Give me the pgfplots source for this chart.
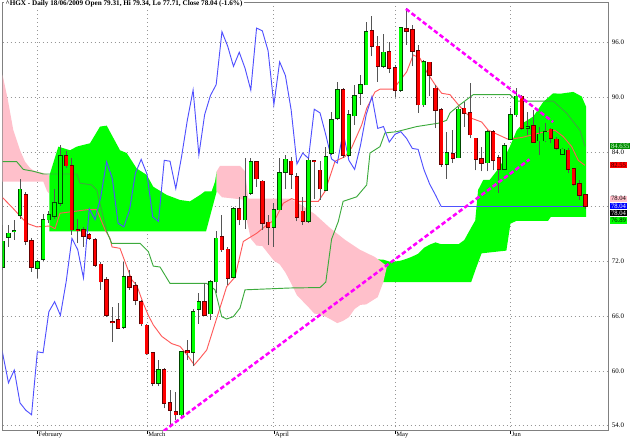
\documentclass[border=0pt]{standalone}
\usepackage{fontspec}
\setmainfont{Liberation Serif}
\usepackage{pgfplots}
\usepackage{pgfplotstable}
\pgfplotsset{compat=1.18}

\definecolor{upfill}{RGB}{0,255,0}
\definecolor{upedge}{RGB}{0,70,0}
\definecolor{dnfill}{RGB}{255,0,0}
\definecolor{dnedge}{RGB}{100,0,0}
\definecolor{wick}{RGB}{85,85,85}
\definecolor{cloudup}{RGB}{0,255,0}
\definecolor{clouddn}{RGB}{255,192,203}
\definecolor{tenkan}{RGB}{255,90,90}
\definecolor{kijun}{RGB}{60,170,60}
\definecolor{chikou}{RGB}{80,80,255}
\definecolor{trend}{RGB}{255,0,255}
\definecolor{gridc}{RGB}{150,150,150}
\definecolor{framec}{RGB}{128,128,128}
\definecolor{lblgreen}{RGB}{0,140,0}

% daily bars: index 0 = 2 Feb 2009
\pgfplotstableread{
i o h l c
-6 71.4 76.0 71.1 74.2
-5 74.7 76.0 73.6 75.1
-4 75.3 76.6 74.4 75.4
-3 77.1 81.0 76.7 79.9
-2 79.3 79.6 73.8 74.2
-1 74.3 74.6 70.9 71.4
0 71.3 72.2 70.2 72.0
1 72.3 77.2 72.1 76.6
2 76.6 77.5 76.2 77.1
3 77.0 80.0 76.7 78.4
4 78.4 84.8 78.1 83.6
5 83.6 84.1 82.3 82.5
6 82.5 83.3 74.9 75.5
7 75.5 76.7 74.0 75.4
8 75.5 75.8 73.6 74.8
9 74.9 75.1 74.4 74.6
10 74.4 74.6 71.4 71.6
11 71.7 72.0 68.9 69.8
12 70.0 70.3 65.9 66.1
13 65.4 67.0 63.2 65.3
14 65.6 67.5 64.6 64.7
15 64.8 72.0 64.6 70.3
16 70.3 71.1 68.9 69.2
17 69.3 69.8 67.2 67.8
18 67.6 67.8 64.9 65.2
19 65.0 65.2 61.8 61.9
20 62.0 62.1 58.3 58.7
21 58.7 61.2 58.3 60.1
22 60.1 60.3 55.9 56.5
23 56.5 57.9 54.0 55.7
24 55.5 57.7 54.6 55.2
25 55.2 62.2 54.9 62.1
26 62.2 63.4 61.2 62.0
27 62.1 66.8 60.5 66.5
28 66.8 68.5 65.2 67.6
29 67.6 69.6 66.0 66.1
30 66.3 70.0 65.6 69.8
31 69.8 75.3 68.5 74.55
32 74.7 77.1 73.1 73.3
33 73.35 73.6 69.4 70.2
34 70.3 78.0 70.2 77.8
35 77.8 79.1 76.0 76.6
36 76.6 83.3 75.6 79.1
37 79.5 83.3 79.3 82.95
38 82.9 83.0 80.2 81.1
39 80.8 80.9 75.5 76.2
40 76.3 77.1 73.8 75.8
41 75.8 78.4 73.6 77.7
42 77.7 83.3 77.6 81.7
43 81.8 83.7 80.0 83.2
44 83.0 83.5 80.0 81.6
45 81.3 81.7 76.4 76.9
46 77.5 79.1 76.0 76.4
47 76.4 83.3 76.2 83.1
48 83.05 83.15 78.9 83.0
49 82.0 83.0 78.75 80.0
50 79.85 84.6 79.7 83.5
51 83.9 88.4 83.7 87.5
52 87.7 91.7 87.5 90.8
53 90.8 91.0 83.3 83.7
54 83.7 88.6 83.5 88.1
55 88.0 91.4 87.0 90.2
56 90.45 92.5 89.2 91.4
57 91.4 98.3 91.35 97.2
58 97.3 98.9 94.5 95.6
59 95.6 96.7 91.7 93.4
60 93.4 96.9 93.2 94.95
61 95.0 96.1 92.65 93.2
62 93.2 93.6 90.0 90.8
63 90.8 97.75 90.6 97.6
64 97.5 99.78 95.75 97.3
65 97.4 97.9 93.4 95.1
66 95.1 95.75 88.3 89.2
67 89.2 94.1 89.0 93.9
68 93.85 93.9 90.1 92.4
69 91.0 91.4 86.6 88.6
70 88.6 88.8 82.4 82.7
71 82.7 86.2 81.1 83.9
72 83.8 86.4 82.8 83.3
73 83.4 88.9 83.3 88.7
74 88.8 89.5 86.8 88.3
75 88.3 91.55 85.5 85.9
76 85.5 85.6 82.0 83.25
77 83.25 84.6 81.9 82.8
78 82.85 86.4 81.9 86.2
79 86.2 86.4 82.0 83.1
80 83.4 83.7 79.5 82.1
81 82.1 85.0 82.0 84.7
82 85.4 88.8 85.3 88.1
83 88.1 91.0 87.9 90.1
84 90.1 90.3 86.4 86.6
85 86.6 88.4 85.9 86.8
86 86.9 88.6 85.0 85.1
87 85.25 86.8 83.7 85.96
88 85.25 87.2 85.1 86.24
89 86.5 86.6 85.0 85.5
90 85.4 85.7 84.2 84.4
91 83.8 84.4 83.7 84.3
92 84.2 84.4 81.7 82.1
93 82.2 82.3 80.3 80.5
94 80.5 80.95 78.75 79.31
95 79.31 79.34 77.71 78.04
}\ohlc

\pgfplotsset{
  candle/.style n args={2}{draw=none, mark=none, forget plot,
    restrict y to domain=0:200,
    error bars/.cd, y dir=plus, y explicit, error mark=none,
    error bar style={line width=#1, draw=#2, solid}},
}

\begin{document}
\begin{tikzpicture}
\begin{axis}[
  at={(2.03pt,5.25pt)}, anchor=south west,
  width=454.7pt, height=321pt, scale only axis,
  xmin=-6.0, xmax=99.08, ymin=53.42, ymax=100.35,
  axis line style={draw=framec, line width=0.75pt},
  xtick={0,19,41,62,82},
  xticklabels={February,March,April,May,Jun},
  xtick pos=bottom, xtick align=outside,
  major tick length=2pt,
  xtick style={draw=black, line width=0.5pt},
  xticklabel style={anchor=north west, inner sep=0pt, xshift=0.8pt, yshift=1.6pt,
    font=\fontsize{4.9pt}{5.5pt}\selectfont},
  ytick={54,60,66,72,78,84,90,96},
  yticklabels={54.0,60.0,66.0,72.0,78.0,84.0,90.0,96.0},
  yticklabel pos=right, ytick style={draw=none},
  yticklabel style={anchor=west, inner sep=0pt, xshift=2pt,
    font=\fontsize{5.2pt}{6pt}\selectfont},
  grid=major,
  major grid style={draw=gridc, line width=0.6pt, dash pattern=on 0.7pt off 2.3pt},
]

% Ichimoku cloud
\addplot[fill=clouddn, draw=none, forget plot] coordinates {
  (-6.2,93.0) (-5.1,89.7) (-4.16,86.4) (-3.0,84.2) (-2.13,82.95) (-1.27,82.25)
  (-0.69,82.0) (1.04,81.7) (2.0,81.5) (2.0,79.5) (1.7,79.7) (1.04,80.76) (-6.2,80.76)
} -- cycle;
\addplot[fill=cloudup, draw=none, forget plot] coordinates {
  (2.08,81.4) (3.64,84.6) (5.67,84.2) (6.83,84.6) (9.13,84.97) (10.87,86.8)
  (12.03,86.9) (14.33,84.2) (15.49,83.9) (17.23,82.2) (18.96,81.5) (20.1,80.2)
  (22.43,79.3) (24.73,78.75) (26.46,78.6) (28.2,79.3) (29.06,79.7) (30.22,79.7)
  (30.8,80.76) (31.09,81.9) (31.09,79.7) (29.24,75.3) (2.08,75.3)
} -- cycle;
\addplot[fill=cloudup, draw=none, forget plot] coordinates {
  (57.5,72.3) (60,72.2) (61,72.0) (62,72.0) (63,72.1) (64,72.3) (65,72.55) (66,72.85)
  (67,73.5) (68,73.85) (69,74.1) (70,73.9) (73,73.9) (74,74.35) (75,75.5)
  (75.9,76.5) (76.4,79.85) (77.3,80.95) (78.4,80.95) (80.2,82.4) (81.9,84.6)
  (83.1,86.4) (84.2,87.2) (85.96,87.9) (87.7,89.5) (89.4,90.45) (90.6,90.4)
  (92.9,90.6) (94.35,90.1) (95.1,89.0) (95.1,76.89) (89,76.89) (88.5,76.45)
  (83,76.45) (82,76.15) (81.3,73.2) (77,72.9) (76,71.2) (75.2,69.75) (57.5,69.75)
} -- cycle;
\addplot[fill=clouddn, draw=none, forget plot] coordinates {
  (31.09,81.9) (31.67,82.5) (35.13,82.5) (36.0,81.9) (36.57,78.9) (43.8,78.9)
  (45.5,78.3) (48.1,77.2) (50.7,75.7) (53.3,74.4) (55.9,73.3) (58.5,72.5) (60.6,71.5)
  (60,69.8) (59,68.1) (58,67.7) (57,67.3) (56,67.25) (55,66.8) (54,65.9) (53,65.5)
  (52,65.25) (51,65.6) (50,65.95) (49,66.2) (48,66.3) (47,67.0) (46,67.65) (45,68.3)
  (44,69.6) (43,70.8) (42,71.7) (41,72.1) (40,72.9) (39,73.7) (38,73.75) (37,74.5)
  (36.3,76.5) (35.6,78.8) (32,79.05) (31.09,79.7)
} -- cycle;

% conversion and base lines
\addplot[tenkan, line width=0.7pt, mark=none, forget plot] coordinates {
  (-6.0,79.0) (-4.16,77.8) (-1.84,76.2) (-0.1,75.8) (2.2,75.9) (3.07,75.6)
  (3.93,77.3) (8.84,77.7) (10.3,77.7) (11.73,75.5) (12.6,74.55) (12.95,73.6)
  (14.33,73.45) (16.36,70.0) (17.23,69.4) (18.37,67.4) (19.24,66.1) (20.1,65.05)
  (21.56,63.8) (23.29,63.0) (24.73,62.7) (26.17,61.6) (27.2,60.66) (28.2,61.4)
  (29.36,62.3) (30.8,65.2) (32.82,69.25) (34.26,70.3) (35.7,74.2) (38.02,75.1)
  (39.76,76.0) (41.2,76.6) (42.63,78.4) (44.09,78.9) (45.23,78.6) (48.7,78.6)
  (49.86,79.7) (51.6,83.0) (53.33,83.5) (54.49,84.5) (56.22,86.98) (57.09,88.8)
  (58.53,90.6) (59.39,90.9) (61.7,90.9) (64.02,92.8) (65.16,94.65) (66.32,94.3)
  (67.49,92.8) (68.93,91.4) (70.09,90.45) (71.53,90.3) (72.96,89.2) (74.12,88.4)
  (75.29,87.7) (77.02,87.3) (78.16,86.4) (79.9,85.9) (81.63,85.4) (83.95,85.6)
  (86.26,85.96) (87.99,86.24) (89.72,86.4) (91.16,85.7) (92.62,84.6) (93.76,83.1)
  (94.92,82.55)
};
\addplot[kijun, line width=0.7pt, mark=none, forget plot] coordinates {
  (-6.0,82.95) (-3.57,82.95) (-2.43,82.1) (-0.69,81.9) (1.04,81.6) (6.83,81.6)
  (7.4,80.6) (9.43,80.4) (10.3,79.85) (12.03,75.3) (12.89,74.0) (17.8,74.0)
  (19.24,73.1) (20.1,71.5) (21.27,71.4) (23.0,69.6) (29.36,69.6) (30.8,68.9)
  (31.96,65.96) (32.82,65.7) (33.97,65.96) (35.13,66.9) (36.0,68.9) (43.8,69.1)
  (49,69.15) (50,69.75) (51,74.45) (52.17,76.4) (53.0,78.6) (55.35,79.1)
  (57.09,80.4) (57.66,83.9) (59.39,84.6) (60.26,86.1) (62.29,86.24) (65.75,86.8)
  (69.79,87.2) (70.95,87.5) (71.53,88.3) (73.26,89.2) (75.56,90.3) (81.92,90.3)
  (83.08,89.6) (89.43,89.6) (91.75,88.26) (94.05,86.4) (94.92,84.64)
};
% lagging line: closes drawn 25 bars back
\addplot[chikou, line width=0.7pt, mark=none, forget plot]
  table[x expr={\thisrow{i}-25}, y=c] {\ohlc};
\addplot[chikou, line width=0.7pt, mark=none, forget plot] coordinates {(70,78.04) (95,78.04)};

% candlesticks
\addplot[candle={0.75pt}{wick}] table[x=i, y=l, y error expr={\thisrow{h}-\thisrow{l}}] {\ohlc};
\addplot[candle={3.3pt}{upedge}] table[x=i,
  y expr={ifthenelse(\thisrow{c}>=\thisrow{o},\thisrow{o}-0.077,-100)},
  y error expr={\thisrow{c}-\thisrow{o}+0.154}] {\ohlc};
\addplot[candle={2.2pt}{upfill}] table[x=i,
  y expr={ifthenelse(\thisrow{c}>=\thisrow{o},\thisrow{o},-100)},
  y error expr={\thisrow{c}-\thisrow{o}}] {\ohlc};
\addplot[candle={3.3pt}{dnedge}] table[x=i,
  y expr={ifthenelse(\thisrow{c}<\thisrow{o},\thisrow{c}-0.077,-100)},
  y error expr={\thisrow{o}-\thisrow{c}+0.154}] {\ohlc};
\addplot[candle={2.2pt}{dnfill}] table[x=i,
  y expr={ifthenelse(\thisrow{c}<\thisrow{o},\thisrow{c},-100)},
  y error expr={\thisrow{o}-\thisrow{c}}] {\ohlc};

% trend lines
\addplot[trend, line width=1.9pt, dash pattern=on 3.4pt off 1.9pt, mark=none, forget plot]
  coordinates {(21.9,53.42) (85.3,83.2)};
\addplot[trend, line width=1.9pt, dash pattern=on 3.4pt off 1.9pt, mark=none, forget plot]
  coordinates {(63.9,99.7) (89.4,87.3)};
\end{axis}

% title and last-value tags, positioned in pixel units
\begin{scope}[x=0.75pt, y=-0.75pt, shift={(0pt,328.5pt)}]
  \node[anchor=west, fill=white, inner sep=1pt, font=\fontsize{5.4pt}{6pt}\selectfont\bfseries]
    at (4,3.5) {\textasciicircum HGX - Daily 18/06/2009 Open 79.31, Hi 79.34, Lo 77.71, Close 78.04 (-1.6\%)};
  \tikzset{tag/.style={anchor=west, inner xsep=0.6pt, inner ysep=0.2pt,
    minimum height=6.2*0.75pt, font=\fontsize{5pt}{5.5pt}\selectfont}}
  \node[tag, fill=lblgreen, text=white!85!green] at (610,146.3) {84.635};
  \node[tag, fill=red, text=black!80!red] at (610,165.4) {82.55};
  \node[tag, fill=clouddn, text=black] at (610,198.7) {78.04};
  \node[tag, fill=blue, text=white] at (610,206.0) {78.04};
  \node[tag, fill=black, text=white] at (610,213.3) {78.04};
  \node[tag, fill=cloudup, text=black] at (610,220.6) {76.89};
\end{scope}
\pgfresetboundingbox
\useasboundingbox (0,0) rectangle (480pt,328.5pt);
\end{tikzpicture}
\end{document}
